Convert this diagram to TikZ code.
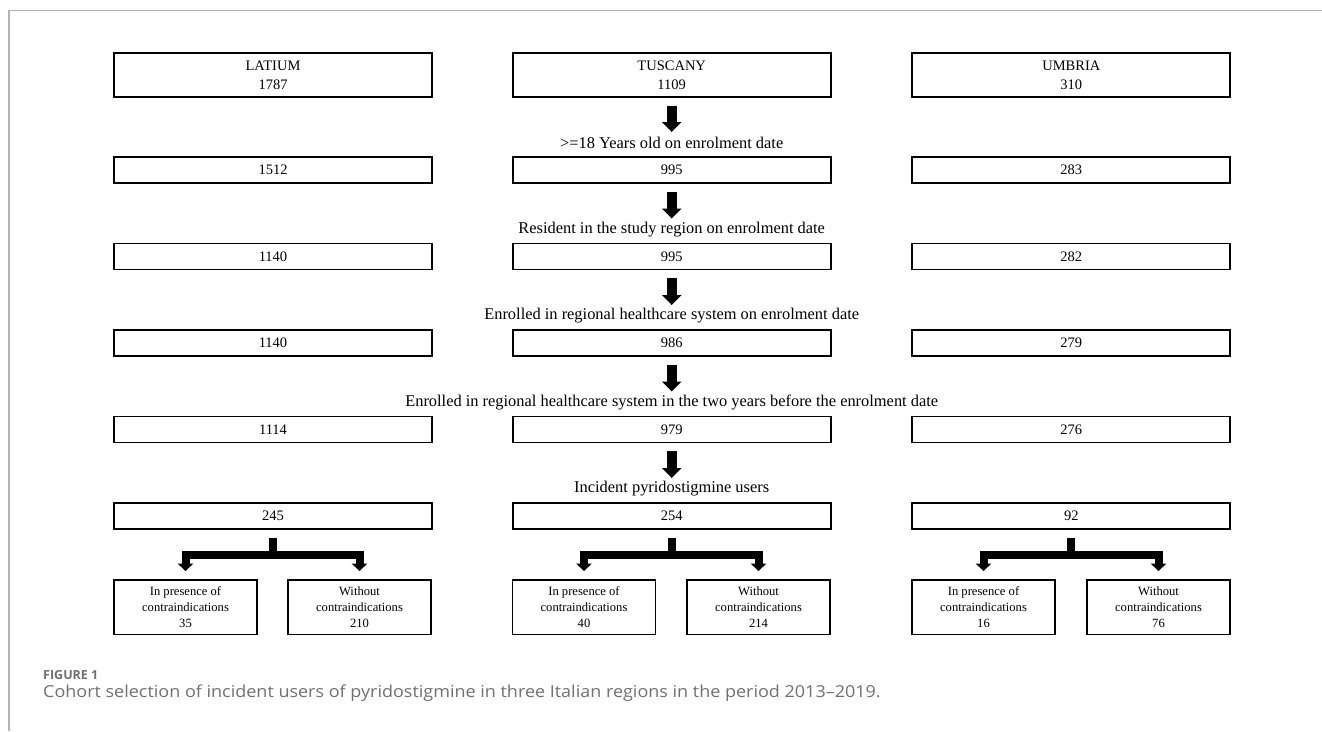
\documentclass[tikz,border=0pt]{standalone}
\usepackage{fontspec}
\setmainfont{Liberation Serif}
\newfontfamily\capfont[FakeStretch=1.09]{Open Sans}
\newfontfamily\figfont{Open Sans}
\usetikzlibrary{arrows.meta}
\definecolor{framegray}{HTML}{B4B4B4}
\definecolor{capgray}{HTML}{707070}
\begin{document}
\begin{tikzpicture}[x=1pt,y=-1pt,
  topbox/.style={draw, line width=1.8pt, minimum width=318pt, minimum height=44pt, inner sep=0pt, align=center, font=\fontsize{14.5}{19.3}\selectfont},
  rowbox/.style={topbox, minimum height=26pt},
  subbox/.style={draw, line width=1.5pt, minimum width=143pt, minimum height=54.5pt, inner sep=0pt, align=center, font=\fontsize{12.6}{15.7}\selectfont},
  lab/.style={font=\fontsize{16.4}{19}\selectfont, inner sep=0pt},
  bigarrow/.style={line width=10pt, -{Triangle[width=19pt,length=10pt]}},
  splitarrow/.style={line width=8pt, line join=miter, {Triangle[width=15.5pt,length=7.5pt]}-{Triangle[width=15.5pt,length=7.5pt]}},
  stemline/.style={line width=8pt},
  frame/.style={draw=framegray, line width=1.4pt}
]
\useasboundingbox (0,0) rectangle (1322,731);
\coordinate (fa) at (9,731);
\coordinate (fb) at (9,10.7);
\coordinate (fc) at (1322,10.7);
\draw[frame] (fa) -- (fb) -- (fc);

% top boxes
\node[topbox] (L1) at (273,75) {LATIUM\\1787};
\node[topbox] (T1) at (671.7,75) {TUSCANY\\1109};
\node[topbox] (U1) at (1071.3,75) {UMBRIA\\310};

% rows
\node[rowbox] (L2) at (273,170) {1512};
\node[rowbox] (T2) at (671.7,170) {995};
\node[rowbox] (U2) at (1071.3,170) {283};
\node[rowbox] (L3) at (273,256.5) {1140};
\node[rowbox] (T3) at (671.7,256.5) {995};
\node[rowbox] (U3) at (1071.3,256.5) {282};
\node[rowbox] (L4) at (273,343) {1140};
\node[rowbox] (T4) at (671.7,343) {986};
\node[rowbox] (U4) at (1071.3,343) {279};
\node[rowbox] (L5) at (273,429.5) {1114};
\node[rowbox] (T5) at (671.7,429.5) {979};
\node[rowbox] (U5) at (1071.3,429.5) {276};
\node[rowbox] (L6) at (273,516) {245};
\node[rowbox] (T6) at (671.7,516) {254};
\node[rowbox] (U6) at (1071.3,516) {92};

% labels
\node[lab] (c1) at (671.7,143) {>=18 Years old on enrolment date};
\node[lab] (c2) at (671.7,229.5) {Resident in the study region on enrolment date};
\node[lab] (c3) at (671.7,316) {Enrolled in regional healthcare system on enrolment date};
\node[lab] (c4) at (671.7,402.5) {Enrolled in regional healthcare system in the two years before the enrolment date};
\node[lab] (c5) at (671.7,489) {Incident pyridostigmine users};

\draw[bigarrow] ([yshift=-8pt]T1.south) -- ([yshift=11pt]c1.center);
\draw[bigarrow] ([yshift=-8pt]T2.south) -- ([yshift=11pt]c2.center);
\draw[bigarrow] ([yshift=-8pt]T3.south) -- ([yshift=11pt]c3.center);
\draw[bigarrow] ([yshift=-8pt]T4.south) -- ([yshift=11pt]c4.center);
\draw[bigarrow] ([yshift=-8pt]T5.south) -- ([yshift=11pt]c5.center);

% sub boxes
\node[subbox] (La) at (185.5,607) {In presence of\\contraindications\\35};
\node[subbox] (Lb) at (359.5,607) {Without\\contraindications\\210};
\node[subbox] (Ta) at (584,607) {In presence of\\contraindications\\40};
\node[subbox] (Tb) at (758.5,607) {Without\\contraindications\\214};
\node[subbox] (Ua) at (983.5,607) {In presence of\\contraindications\\16};
\node[subbox] (Ub) at (1158.5,607) {Without\\contraindications\\76};

\foreach \c in {L,T,U}{
  \coordinate (\c bar) at ([yshift=-25pt]\c6.south);
  \draw[stemline] ([yshift=-8.5pt]\c6.south) -- (\c bar);
  \draw[splitarrow] ([yshift=8pt]\c a.north) |- (\c bar) -| ([yshift=8pt]\c b.north);
}

% caption
\node[anchor=west, inner sep=0pt, text=capgray, font=\figfont\bfseries\fontsize{12.5}{14}\selectfont] (fig) at (43,675.5) {FIGURE 1};
\node[anchor=west, inner sep=0pt, text=capgray, font=\capfont\fontsize{16.5}{19}\selectfont] (cap) at (43,693) {Cohort selection of incident users of pyridostigmine in three Italian regions in the period 2013–2019.};
\end{tikzpicture}
\end{document}
